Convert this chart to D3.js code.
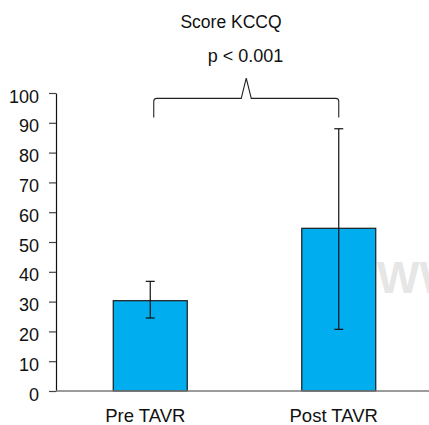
<!DOCTYPE html>
<html>
<head>
<meta charset="utf-8">
<script src="https://cdn.jsdelivr.net/npm/d3@7/dist/d3.min.js"></script>
<style>
  body { margin: 0; background: #fff; }
  svg { display: block; font-family: "Liberation Sans", Arial, sans-serif; }
</style>
</head>
<body>
<svg id="chart" width="429" height="425"></svg>
<script>
const categories = ['Pre TAVR', 'Post TAVR'];
const means = [30.3, 54.6];
const errLow = [24.5, 20.7];
const errHigh = [36.8, 88.0];
const yTicks = [0, 10, 20, 30, 40, 50, 60, 70, 80, 90, 100];
const title = 'Score KCCQ';
const pLabel = 'p < 0.001';

const svg = d3.select('#chart');
const chartW = 429;
const plotLeft = 56, plotBottom = 391, plotTop = 93;

const y = d3.scaleLinear().domain([0, 100]).range([plotBottom, plotTop]);
const x = d3.scalePoint().domain(categories).range([plotLeft, 433]).padding(0.5);
const barW = 74, capW = 9;

// watermark, partly cut off at the right edge
svg.append('text')
  .attr('x', 377)
  .attr('y', 293)
  .attr('font-size', 45)
  .attr('font-weight', 'bold')
  .attr('fill', '#e6e6e7')
  .text('WW');

// y axis
const yAxis = svg.append('g')
  .attr('transform', `translate(${plotLeft},0)`)
  .call(d3.axisLeft(y).tickValues(yTicks).tickSize(7).tickSizeOuter(0).tickPadding(10));
yAxis.select('.domain').attr('stroke', '#111').attr('stroke-width', 1.2);
yAxis.selectAll('.tick line').attr('stroke', '#444').attr('stroke-width', 1.2);
yAxis.selectAll('.tick text')
  .attr('font-size', 18)
  .attr('font-family', '"Liberation Sans", Arial, sans-serif')
  .attr('fill', '#111')
  .attr('dy', '0.5em');

// bars
const idx = d3.range(categories.length);
svg.append('g').selectAll('rect')
  .data(idx)
  .join('rect')
  .attr('x', i => x(categories[i]) - barW / 2)
  .attr('y', i => y(means[i]))
  .attr('width', barW)
  .attr('height', i => y(0) - y(means[i]))
  .attr('fill', '#00aeef')
  .attr('stroke', '#1a1a1a')
  .attr('stroke-width', 1.2);

// x axis baseline (grey, runs to the edge)
svg.append('line')
  .attr('x1', plotLeft).attr('x2', chartW)
  .attr('y1', y(0)).attr('y2', y(0))
  .attr('stroke', '#7a7a7a')
  .attr('stroke-width', 1.6);

// error bars
const err = svg.append('g').attr('stroke', '#111').attr('stroke-width', 1.2);
idx.forEach(i => {
  const cx = x(categories[i]);
  err.append('line').attr('x1', cx).attr('x2', cx).attr('y1', y(errLow[i])).attr('y2', y(errHigh[i]));
  [errLow[i], errHigh[i]].forEach(v => {
    err.append('line')
      .attr('x1', cx - capW / 2).attr('x2', cx + capW / 2)
      .attr('y1', y(v)).attr('y2', y(v));
  });
});

// x labels
svg.append('g').selectAll('text')
  .data(categories)
  .join('text')
  .attr('x', d => x(d) - 5)
  .attr('y', 422)
  .attr('text-anchor', 'middle')
  .attr('font-size', 18.5)
  .attr('fill', '#111')
  .text(d => d);

// significance bracket
const bx1 = x(categories[0]) + 3.5, bx2 = x(categories[1]);
const bm = (bx1 + bx2) / 2;
const by = y(98.2), legY = y(91.8), peakY = y(105), r = 3;
const path = d3.path();
path.moveTo(bx1, legY);
path.lineTo(bx1, by + r);
path.quadraticCurveTo(bx1, by, bx1 + r, by);
path.lineTo(bm - 5, by);
path.lineTo(bm, peakY);
path.lineTo(bm + 5, by);
path.lineTo(bx2 - r, by);
path.quadraticCurveTo(bx2, by, bx2, by + r);
path.lineTo(bx2, legY);
svg.append('path')
  .attr('d', path.toString())
  .attr('fill', 'none')
  .attr('stroke', '#222')
  .attr('stroke-width', 1.1);

svg.append('text')
  .attr('x', 231)
  .attr('y', 28)
  .attr('text-anchor', 'middle')
  .attr('font-size', 17.5)
  .attr('fill', '#111')
  .text(title);

svg.append('text')
  .attr('x', 245.5)
  .attr('y', 62)
  .attr('text-anchor', 'middle')
  .attr('font-size', 18)
  .attr('fill', '#111')
  .text(pLabel);
</script>
</body>
</html>
